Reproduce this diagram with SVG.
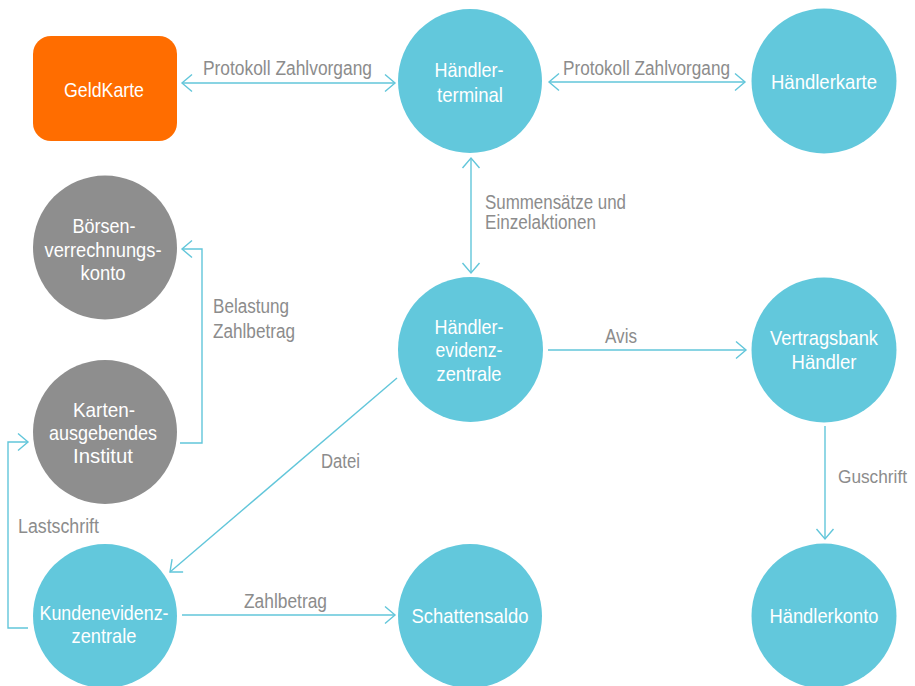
<svg xmlns="http://www.w3.org/2000/svg" width="915" height="686" viewBox="0 0 915 686">
<style>
.t{font-family:"Liberation Sans Narrow","Liberation Sans",Arial,sans-serif;font-size:21px;}
.n{fill:#ffffff;text-anchor:middle;}
.l{fill:#8c8c8c;font-size:20px;}
.teal{fill:#62c8dc;}
.grey{fill:#8e8e8e;}
.c{fill:none;stroke:#62c6da;stroke-width:1.4;}
</style>
<defs>
<marker id="ah" viewBox="-12 -10 14 20" refX="0" refY="0" markerWidth="14" markerHeight="20" markerUnits="userSpaceOnUse" orient="auto-start-reverse">
<path d="M-10,-8.5 L0,0 L-10,8.5" fill="none" stroke="#62c6da" stroke-width="1.4"/>
</marker>
</defs>
<rect width="915" height="686" fill="#ffffff"/>
<g id="connectors">
<path class="c" d="M182,83 L395,83" marker-start="url(#ah)" marker-end="url(#ah)"/>
<path class="c" d="M549,82 L745,82" marker-start="url(#ah)" marker-end="url(#ah)"/>
<path class="c" d="M471,158 L471,273" marker-start="url(#ah)" marker-end="url(#ah)"/>
<path class="c" d="M548,350 L746,350" marker-end="url(#ah)"/>
<path class="c" d="M825,426 L825,539" marker-end="url(#ah)"/>
<path class="c" d="M180,443 H202 V249 H182" marker-end="url(#ah)"/>
<path class="c" d="M397,378 L170,572" marker-end="url(#ah)"/>
<path class="c" d="M28,628 H8 V442 H28" marker-end="url(#ah)"/>
<path class="c" d="M182,615 L395,615" marker-end="url(#ah)"/>
<text class="t l" x="203" y="75" textLength="169" lengthAdjust="spacingAndGlyphs">Protokoll Zahlvorgang</text>
<text class="t l" x="563" y="74.5" textLength="167" lengthAdjust="spacingAndGlyphs">Protokoll Zahlvorgang</text>
<text class="t l" x="485" y="209" textLength="141" lengthAdjust="spacingAndGlyphs">Summensätze und</text>
<text class="t l" x="485" y="229" textLength="111" lengthAdjust="spacingAndGlyphs">Einzelaktionen</text>
<text class="t l" x="605" y="343" textLength="32" lengthAdjust="spacingAndGlyphs">Avis</text>
<text class="t l" x="838" y="483" textLength="69" lengthAdjust="spacingAndGlyphs" style="font-size:19px">Guschrift</text>
<text class="t l" x="213" y="313" textLength="76" lengthAdjust="spacingAndGlyphs">Belastung</text>
<text class="t l" x="213" y="338" textLength="82" lengthAdjust="spacingAndGlyphs">Zahlbetrag</text>
<text class="t l" x="321" y="468" textLength="39" lengthAdjust="spacingAndGlyphs">Datei</text>
<text class="t l" x="18" y="533" textLength="81" lengthAdjust="spacingAndGlyphs">Lastschrift</text>
<text class="t l" x="244" y="608" textLength="83" lengthAdjust="spacingAndGlyphs">Zahlbetrag</text>
</g>
<g id="geldkarte">
<rect x="33" y="36" width="144" height="105" rx="18" fill="#ff6d00"/>
<text class="t n" x="104" y="97" textLength="80" lengthAdjust="spacingAndGlyphs">GeldKarte</text>
</g>
<g id="haendlerterminal">
<circle class="teal" cx="470" cy="81" r="72"/>
<text class="t n" x="469" y="77" textLength="69" lengthAdjust="spacingAndGlyphs">Händler-</text>
<text class="t n" x="470" y="102" textLength="66" lengthAdjust="spacingAndGlyphs">terminal</text>
</g>
<g id="haendlerkarte">
<circle class="teal" cx="824" cy="81" r="72.5"/>
<text class="t n" x="824" y="89" textLength="106" lengthAdjust="spacingAndGlyphs">Händlerkarte</text>
</g>
<g id="boersenverrechnungskonto">
<circle class="grey" cx="105" cy="247.5" r="72"/>
<text class="t n" x="104" y="233" textLength="63" lengthAdjust="spacingAndGlyphs">Börsen-</text>
<text class="t n" x="103" y="257" textLength="117" lengthAdjust="spacingAndGlyphs">verrechnungs-</text>
<text class="t n" x="103" y="280" textLength="45" lengthAdjust="spacingAndGlyphs">konto</text>
</g>
<g id="kartenausgebendes-institut">
<circle class="grey" cx="105" cy="432" r="72"/>
<text class="t n" x="104" y="417" textLength="62" lengthAdjust="spacingAndGlyphs">Karten-</text>
<text class="t n" x="103" y="440" textLength="108" lengthAdjust="spacingAndGlyphs">ausgebendes</text>
<text class="t n" x="103" y="463" textLength="60" lengthAdjust="spacingAndGlyphs">Institut</text>
</g>
<g id="haendlerevidenzzentrale">
<circle class="teal" cx="470.5" cy="349.5" r="72.5"/>
<text class="t n" x="469" y="334" textLength="69" lengthAdjust="spacingAndGlyphs">Händler-</text>
<text class="t n" x="469" y="357" textLength="67" lengthAdjust="spacingAndGlyphs">evidenz-</text>
<text class="t n" x="469" y="381" textLength="65" lengthAdjust="spacingAndGlyphs">zentrale</text>
</g>
<g id="vertragsbank-haendler">
<circle class="teal" cx="824" cy="350" r="72.5"/>
<text class="t n" x="824" y="345" textLength="108" lengthAdjust="spacingAndGlyphs">Vertragsbank</text>
<text class="t n" x="824" y="369" textLength="65" lengthAdjust="spacingAndGlyphs">Händler</text>
</g>
<g id="kundenevidenzzentrale">
<circle class="teal" cx="105" cy="616" r="72"/>
<text class="t n" x="104" y="620" textLength="129" lengthAdjust="spacingAndGlyphs">Kundenevidenz-</text>
<text class="t n" x="104" y="643" textLength="65" lengthAdjust="spacingAndGlyphs">zentrale</text>
</g>
<g id="schattensaldo">
<circle class="teal" cx="470" cy="616" r="72"/>
<text class="t n" x="470" y="623" textLength="117" lengthAdjust="spacingAndGlyphs">Schattensaldo</text>
</g>
<g id="haendlerkonto">
<circle class="teal" cx="824" cy="616" r="72.5"/>
<text class="t n" x="824" y="623" textLength="109" lengthAdjust="spacingAndGlyphs">Händlerkonto</text>
</g>
</svg>
